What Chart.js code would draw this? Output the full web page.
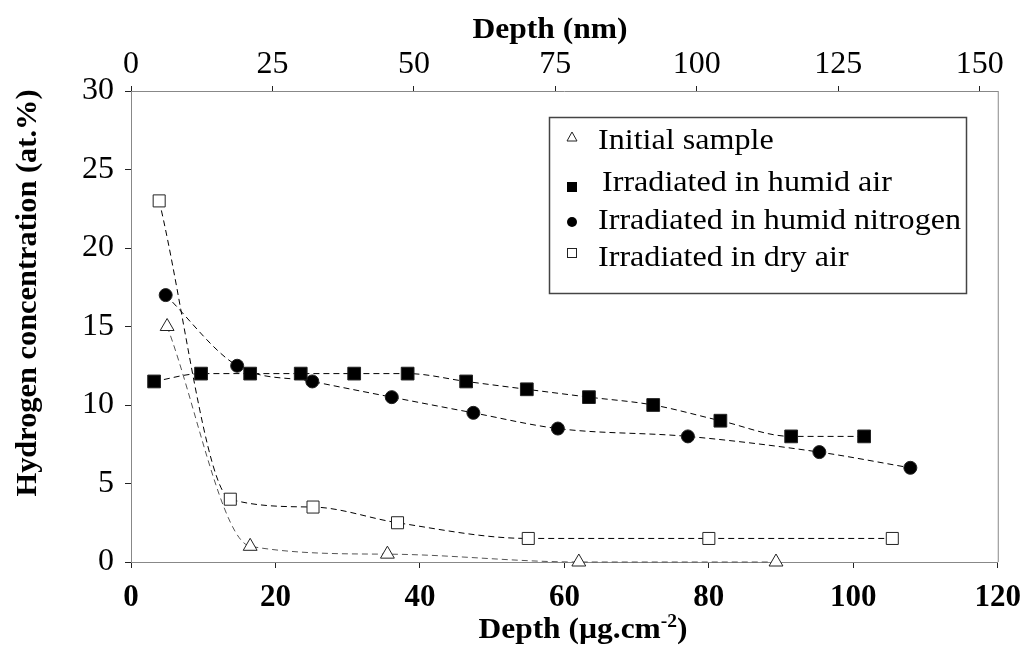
<!DOCTYPE html>
<html>
<head>
<meta charset="utf-8">
<script src="https://cdn.jsdelivr.net/npm/chart.js@4"></script>
<style>
  html, body { margin: 0; padding: 0; background: #fff; }
  canvas { display: block; }
</style>
</head>
<body>
<canvas id="chart" width="1032" height="653"></canvas>
<script>
// values (x = depth in ug.cm-2, y = at.%)
const initialX = [5, 16.5, 35.5, 62, 89.3];
const initialY = [15, 1, 0.5, 0, 0];
const humidAirX = [3.2, 9.7, 16.5, 23.5, 30.9, 38.3, 46.4, 54.8, 63.4, 72.3, 81.6, 91.4, 101.5];
const humidAirY = [11.5, 12, 12, 12, 12, 12, 11.5, 11, 10.5, 10, 9, 8, 8];
const nitrogenX = [4.8, 14.7, 25.1, 36.1, 47.4, 59.1, 77.1, 95.3, 107.9];
const nitrogenY = [17, 12.5, 11.5, 10.5, 9.5, 8.5, 8, 7, 6];
const dryAirX = [3.9, 13.75, 25.2, 36.9, 55, 80, 105.4];
const dryAirY = [23, 4, 3.5, 2.5, 1.5, 1.5, 1.5];

const seriesLabels = ['Initial sample', 'Irradiated in humid air', 'Irradiated in humid nitrogen', 'Irradiated in dry air'];
const bottomTicks = [0, 20, 40, 60, 80, 100, 120];
const topTicks = [0, 25, 50, 75, 100, 125, 150];
const leftTicks = [0, 5, 10, 15, 20, 25, 30];
const topMax = 153.2; // nm at right edge of the frame

const FONT = "'Liberation Serif', 'Times New Roman', serif";

function pts(xs, ys) {
    return xs.map((x, i) => ({x: x, y: ys[i]}));
}

function makeSet(label, xs, ys, style, radius, fill, lineColor) {
    return {
        label: label,
        data: pts(xs, ys),
        borderColor: lineColor,
        borderWidth: 1,
        borderDash: [6, 4],
        cubicInterpolationMode: 'monotone',
        pointStyle: style,
        pointRadius: radius,
        pointBackgroundColor: fill,
        pointBorderColor: '#222',
        pointBorderWidth: 1,
        clip: false,
        fill: false
    };
}

// text squeezed/stretched to a given width (the original figure is a bit wider than Times)
function stretchText(ctx, text, cx, cy, width) {
    const w = ctx.measureText(text).width;
    ctx.save();
    ctx.translate(cx, cy);
    ctx.scale(width / w, 1);
    ctx.textAlign = 'center';
    ctx.fillText(text, 0, 0);
    ctx.restore();
}

// frame, titles and legend drawn on top
const extras = {
    id: 'extras',
    afterDraw(chart) {
        const ctx = chart.ctx;
        const a = chart.chartArea;
        ctx.save();
        // right frame line
        ctx.strokeStyle = '#888';
        ctx.lineWidth = 1;
        ctx.beginPath();
        ctx.moveTo(a.right + 0.5, a.top);
        ctx.lineTo(a.right + 0.5, a.bottom);
        ctx.stroke();

        ctx.fillStyle = '#000';
        ctx.textBaseline = 'alphabetic';
        ctx.font = 'bold 29px ' + FONT;
        stretchText(ctx, 'Depth (nm)', 550, 38, 155);

        // bottom title with superscript
        const main = 'Depth (\u00b5g.cm';
        const sup = '-2';
        const close = ')';
        ctx.font = 'bold 29px ' + FONT;
        const w1 = ctx.measureText(main).width;
        const w3 = ctx.measureText(close).width;
        ctx.font = 'bold 18px ' + FONT;
        const w2 = ctx.measureText(sup).width;
        const total = w1 + w2 + w3;
        const sx = 209 / total;
        ctx.save();
        ctx.translate(583 - 209 / 2, 638);
        ctx.scale(sx, 1);
        ctx.textAlign = 'left';
        ctx.font = 'bold 29px ' + FONT;
        ctx.fillText(main, 0, 0);
        ctx.font = 'bold 18px ' + FONT;
        ctx.fillText(sup, w1, -11);
        ctx.font = 'bold 29px ' + FONT;
        ctx.fillText(close, w1 + w2, 0);
        ctx.restore();

        // y title
        ctx.save();
        ctx.translate(29, 293);
        ctx.rotate(-Math.PI / 2);
        ctx.textBaseline = 'middle';
        ctx.font = 'bold 29px ' + FONT;
        stretchText(ctx, 'Hydrogen concentration (at.%)', 0, 0, 407);
        ctx.restore();

        // legend box
        ctx.strokeStyle = '#444';
        ctx.lineWidth = 1.5;
        ctx.strokeRect(549.5, 117.5, 417, 176);
        const rows = [
            {y: 141, mark: 'tri', tx: 598},
            {y: 183, mark: 'sq', tx: 602},
            {y: 221, mark: 'dot', tx: 598},
            {y: 258, mark: 'osq', tx: 598}
        ];
        ctx.font = '30px ' + FONT;
        ctx.textBaseline = 'middle';
        const lsx = 363 / ctx.measureText(seriesLabels[2]).width;
        rows.forEach((r, i) => {
            ctx.fillStyle = '#000';
            ctx.save();
            ctx.translate(r.tx, r.y);
            ctx.scale(lsx, 1);
            ctx.textAlign = 'left';
            ctx.fillText(seriesLabels[i], 0, 0);
            ctx.restore();
            const mx = 572;
            ctx.lineWidth = 1;
            ctx.strokeStyle = '#222';
            if (r.mark === 'tri') {
                const my = 137;
                ctx.beginPath();
                ctx.moveTo(mx, my - 5);
                ctx.lineTo(mx + 5, my + 4);
                ctx.lineTo(mx - 5, my + 4);
                ctx.closePath();
                ctx.fillStyle = '#fff';
                ctx.fill();
                ctx.stroke();
            } else if (r.mark === 'sq') {
                ctx.fillStyle = '#000';
                ctx.fillRect(mx - 5, 187 - 5, 10, 10);
            } else if (r.mark === 'dot') {
                ctx.fillStyle = '#000';
                ctx.beginPath();
                ctx.arc(mx, 222, 5, 0, Math.PI * 2);
                ctx.fill();
            } else {
                ctx.fillStyle = '#fff';
                ctx.fillRect(mx - 4.5, 253 - 4.5, 9, 9);
                ctx.strokeRect(mx - 4.5, 253 - 4.5, 9, 9);
            }
        });
        ctx.restore();
    }
};

const ctx = document.getElementById('chart').getContext('2d');
const myChart = new Chart(ctx, {
    type: 'line',
    data: {
        datasets: [
            makeSet(seriesLabels[0], initialX, initialY, 'triangle', 8, '#fff', '#555'),
            makeSet(seriesLabels[1], humidAirX, humidAirY, 'rect', 9, '#000', '#000'),
            makeSet(seriesLabels[2], nitrogenX, nitrogenY, 'circle', 6.5, '#000', '#000'),
            makeSet(seriesLabels[3], dryAirX, dryAirY, 'rect', 8.5, '#fff', '#000')
        ]
    },
    options: {
        responsive: false,
        animation: false,
        devicePixelRatio: 1,
        layout: {padding: {left: 0, right: 31, top: 0, bottom: 0}},
        plugins: {
            legend: {display: false},
            tooltip: {enabled: false}
        },
        scales: {
            x: {
                type: 'linear',
                position: 'bottom',
                min: bottomTicks[0],
                max: bottomTicks[bottomTicks.length - 1],
                afterBuildTicks: s => { s.ticks = bottomTicks.map(v => ({value: v})); },
                afterFit: s => { s.height = 91; },
                grid: {drawOnChartArea: false, drawTicks: true, tickLength: 6, color: '#222'},
                border: {display: true, color: '#888', width: 1},
                ticks: {color: '#000', padding: 11, font: {family: FONT, size: 31, weight: 'bold'}, maxRotation: 0}
            },
            x2: {
                type: 'linear',
                position: 'top',
                display: true,
                min: 0,
                max: topMax,
                afterBuildTicks: s => { s.ticks = topTicks.map(v => ({value: v})); },
                afterFit: s => { s.height = 91; },
                grid: {drawOnChartArea: false, drawTicks: true, tickLength: 5, color: '#222'},
                border: {display: true, color: '#888', width: 1},
                ticks: {color: '#000', padding: 2, font: {family: FONT, size: 32}, maxRotation: 0}
            },
            y: {
                type: 'linear',
                min: leftTicks[0],
                max: leftTicks[leftTicks.length - 1],
                afterBuildTicks: s => { s.ticks = leftTicks.map(v => ({value: v})); },
                afterFit: s => { s.width = 131; },
                grid: {drawOnChartArea: false, drawTicks: true, tickLength: 6, color: '#222'},
                border: {display: true, color: '#888', width: 1},
                ticks: {color: '#000', padding: 11, font: {family: FONT, size: 32}}
            }
        }
    },
    plugins: [extras]
});
</script>
</body>
</html>
